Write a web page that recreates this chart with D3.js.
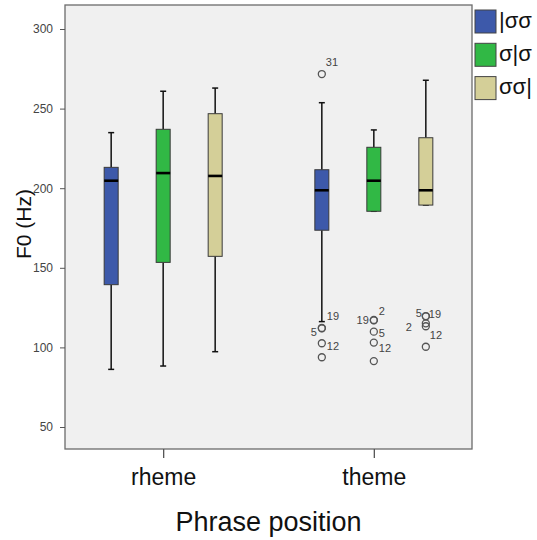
<!DOCTYPE html>
<html>
<head>
<meta charset="utf-8">
<script src="https://cdn.jsdelivr.net/npm/d3@7/dist/d3.min.js"></script>
<style>
  html, body { margin: 0; padding: 0; background: #ffffff; }
  svg { display: block; font-family: "Liberation Sans", Arial, sans-serif; }
</style>
</head>
<body>
<svg id="chart" width="537" height="540"></svg>
<script>
// ---- data ----
const categories = ["rheme", "theme"];
const series = ["|σσ", "σ|σ", "σσ|"];
const yTicks = [50, 100, 150, 200, 250, 300];

// per category: values for each series [|σσ, σ|σ, σσ|]
const whiskerLow  = { rheme: [86.2, 88.3, 97.3],    theme: [116.2, 185.5, 189.4] };
const q1          = { rheme: [139.4, 153.4, 157.2], theme: [173.6, 185.5, 189.4] };
const median      = { rheme: [204.7, 209.5, 207.7], theme: [198.7, 204.7, 198.7] };
const q3          = { rheme: [213.1, 237.0, 246.8], theme: [211.6, 225.7, 231.7] };
const whiskerHigh = { rheme: [234.9, 260.9, 262.9], theme: [253.7, 236.6, 267.8] };

// outliers: [value, case label]
const outliersThemeA = [[271.7, "31"], [112.2, "19"], [112.0, "5"], [102.6, "12"], [93.8, ""]];
const outliersThemeB = [[117.2, "2"], [117.0, "19"], [109.9, "5"], [103.0, "12"], [91.4, ""]];
const outliersThemeC = [[119.7, "5"], [119.5, "19"], [115.1, ""], [113.3, "2"], [100.4, "12"]];
const outliers = { rheme: [[], [], []], theme: [outliersThemeA, outliersThemeB, outliersThemeC] };

// ---- styling / layout ----
const colors = ["#3d59aa", "#31b845", "#d4cf98"];
const W = 537, H = 540;
const plot = { left: 65, top: 5, right: 472, bottom: 449 };
const boxW = 14, capW = 6;
// label placement relative to outlier centre: [dx, dy, anchor]
const labelPlace = {
  "theme-0-31": [4, -12, "start"], "theme-0-19": [5, -12, "start"], "theme-0-5": [-5, 4, "end"], "theme-0-12": [5, 3, "start"],
  "theme-1-2": [5, -9, "start"], "theme-1-19": [-5, 0, "end"], "theme-1-5": [5, 2, "start"], "theme-1-12": [5, 6, "start"],
  "theme-2-5": [-4, -3, "end"], "theme-2-19": [3, -2, "start"], "theme-2-2": [-14, 1, "end"], "theme-2-12": [4, -12, "start"]
};

const svg = d3.select("#chart");

const x = d3.scalePoint().domain(categories).range([plot.left, plot.right]).padding(0.466);
const xs = d3.scalePoint().domain(series).range([-52, 52]);
const y = d3.scaleLinear().domain([50, 300]).range([427, 29]);

// frame
svg.append("rect")
  .attr("x", plot.left).attr("y", plot.top)
  .attr("width", plot.right - plot.left).attr("height", plot.bottom - plot.top)
  .attr("fill", "#f0f0f0").attr("stroke", "#6b6b6b").attr("stroke-width", 1.3);

// y axis
const yAxis = svg.append("g")
  .attr("transform", `translate(${plot.left},0)`)
  .call(d3.axisLeft(y).tickValues(yTicks).tickSize(5).tickPadding(7));
yAxis.select(".domain").remove();
yAxis.selectAll("line").attr("stroke", "#555");
yAxis.selectAll("text").attr("fill", "#444").style("font-size", "12px")
  .style("font-family", "'Liberation Sans', Arial, sans-serif");

// x axis
const xAxis = svg.append("g")
  .attr("transform", `translate(0,${plot.bottom})`)
  .call(d3.axisBottom(x).tickSize(9).tickPadding(11));
xAxis.select(".domain").remove();
xAxis.selectAll("line").attr("stroke", "#555").attr("stroke-width", 1.3);
xAxis.selectAll("text").attr("fill", "#111").style("font-size", "23px")
  .style("font-family", "'Liberation Sans', Arial, sans-serif");

// boxes
categories.forEach(cat => {
  series.forEach((s, i) => {
    const cx = x(cat) + xs(s);
    const g = svg.append("g");
    // whiskers
    g.append("line").attr("x1", cx).attr("x2", cx)
      .attr("y1", y(whiskerHigh[cat][i])).attr("y2", y(q3[cat][i]))
      .attr("stroke", "#111").attr("stroke-width", 1.5);
    g.append("line").attr("x1", cx).attr("x2", cx)
      .attr("y1", y(q1[cat][i])).attr("y2", y(whiskerLow[cat][i]))
      .attr("stroke", "#111").attr("stroke-width", 1.5);
    [whiskerHigh[cat][i], whiskerLow[cat][i]].forEach(v => {
      g.append("line").attr("x1", cx - capW / 2).attr("x2", cx + capW / 2)
        .attr("y1", y(v)).attr("y2", y(v))
        .attr("stroke", "#111").attr("stroke-width", 1.5);
    });
    // box
    g.append("rect")
      .attr("x", cx - boxW / 2).attr("width", boxW)
      .attr("y", y(q3[cat][i])).attr("height", y(q1[cat][i]) - y(q3[cat][i]))
      .attr("fill", colors[i]).attr("stroke", "#3a3a3a").attr("stroke-width", 1);
    // median
    g.append("line").attr("x1", cx - boxW / 2).attr("x2", cx + boxW / 2)
      .attr("y1", y(median[cat][i])).attr("y2", y(median[cat][i]))
      .attr("stroke", "#000").attr("stroke-width", 2.6);
    // outliers
    outliers[cat][i].forEach(([v, lab]) => {
      g.append("circle").attr("cx", cx).attr("cy", y(v)).attr("r", 3.5)
        .attr("fill", "none").attr("stroke", "#555").attr("stroke-width", 1.3);
      if (lab) {
        const p = labelPlace[`${cat}-${i}-${lab}`] || [5, -10, "start"];
        g.append("text").attr("x", cx + p[0]).attr("y", y(v) + p[1])
          .attr("dy", "0.35em").attr("text-anchor", p[2])
          .attr("fill", "#444").style("font-size", "11px").text(lab);
      }
    });
  });
});

// axis titles
svg.append("text")
  .attr("transform", `translate(31,224) rotate(-90)`)
  .attr("text-anchor", "middle").attr("fill", "#111")
  .style("font-size", "21px").text("F0 (Hz)");
svg.append("text")
  .attr("x", (plot.left + plot.right) / 2).attr("y", 531)
  .attr("text-anchor", "middle").attr("fill", "#111")
  .style("font-size", "27px").text("Phrase position");

// legend
const leg = svg.append("g");
series.forEach((s, i) => {
  const ly = 10 + i * 33.3;
  leg.append("rect").attr("x", 475).attr("y", ly).attr("width", 21).attr("height", 23)
    .attr("fill", colors[i]).attr("stroke", "#444").attr("stroke-width", 1);
  leg.append("text").attr("x", 499).attr("y", ly + 17.5)
    .attr("fill", "#111").style("font-size", "22px").text(s);
});
</script>
</body>
</html>
